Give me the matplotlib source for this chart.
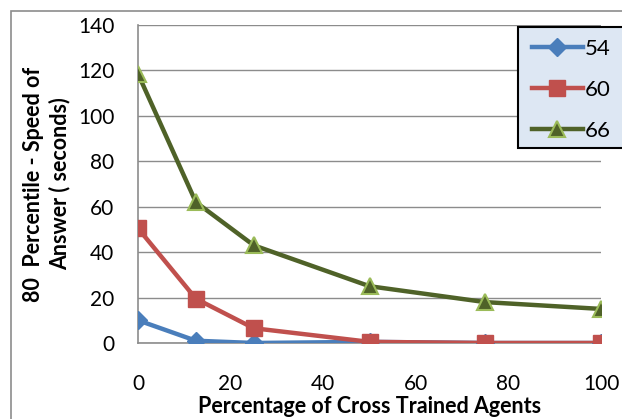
import matplotlib
matplotlib.use("Agg")
import matplotlib.pyplot as plt
from matplotlib.patches import Rectangle

plt.rcParams['font.family'] = ['Lato', 'DejaVu Sans']

# porcentaje de agentes con entrenamiento cruzado
pct_cross = [0, 12.5, 25, 50, 75, 100]

# percentil 80 de la velocidad de respuesta (segundos) por nivel de agentes
serie_54 = [10, 1, 0, 0.5, 0, 0]
serie_60 = [50.5, 19.5, 6.5, 0.5, 0, 0]
serie_66 = [118.5, 62, 43, 25, 18, 15]

y_ticks = [0, 20, 40, 60, 80, 100, 120, 140]
x_ticks = [0, 20, 40, 60, 80, 100]

W, H = 622, 419
fig = plt.figure(figsize=(W / 100, H / 100), dpi=100)

# marco exterior del grafico
fig.patches.append(Rectangle((11 / W, -0.1), 1.2, 1 - 11 / H + 0.1,
                             transform=fig.transFigure, fill=False,
                             edgecolor='#8c8c8c', lw=1.2))

ax = fig.add_axes([138 / W, (H - 343) / H, (601 - 138) / W, (343 - 25) / H])

ax.plot(pct_cross, serie_54, color='#4a7ebb', lw=3.2, marker='D', markersize=9,
        markerfacecolor='#4a7ebb', markeredgecolor='#4a7ebb', label='54', zorder=3)
ax.plot(pct_cross, serie_60, color='#c0504d', lw=3.2, marker='s', markersize=11,
        markerfacecolor='#c0504d', markeredgecolor='#c0504d', label='60', zorder=4)
ax.plot(pct_cross, serie_66, color='#4f6228', lw=3.2, marker='^', markersize=12,
        markerfacecolor='#4f6228', markeredgecolor='#9bbb59', markeredgewidth=1.5,
        label='66', zorder=5)

ax.set_xlim(0, 100)
ax.set_ylim(0, 140)
ax.set_xticks(x_ticks)
ax.set_yticks(y_ticks)
ax.tick_params(axis='both', length=0, labelsize=15)
ax.tick_params(axis='y', pad=17)
ax.tick_params(axis='x', pad=22)
ax.grid(axis='y', color='#8c8c8c', lw=1)
ax.set_axisbelow(True)
for s in ['top', 'right']:
    ax.spines[s].set_visible(False)
ax.spines['left'].set_color('#8c8c8c')
ax.spines['bottom'].set_color('#8c8c8c')
ax.spines['left'].set_linewidth(1.2)
ax.spines['bottom'].set_linewidth(1.2)

ax.set_xlabel('Percentage of Cross Trained Agents', fontsize=15.5, fontweight='bold',
              labelpad=2)
fig.text(47 / W, 1 - 184 / H, '80  Percentile - Speed of\nAnswer ( seconds)',
         rotation=90, ha='center', va='center', fontsize=15.5, fontweight='bold',
         linespacing=1.25)

# caja de la leyenda
fig.patches.append(Rectangle((518 / W, 1 - 148 / H), 0.3, (148 - 27) / H,
                             transform=fig.transFigure, facecolor='#dde7f3',
                             edgecolor='black', lw=1.5, zorder=6))
handles, labels = ax.get_legend_handles_labels()
leg = fig.legend(handles, labels, loc='upper left',
                 bbox_to_anchor=(516 / W, 1 - 23 / H), frameon=False, fontsize=16,
                 handlelength=2.3, handletextpad=0.1, labelspacing=0.95,
                 borderpad=0.2)
leg.set_zorder(7)

fig.savefig('out.png', dpi=100)
